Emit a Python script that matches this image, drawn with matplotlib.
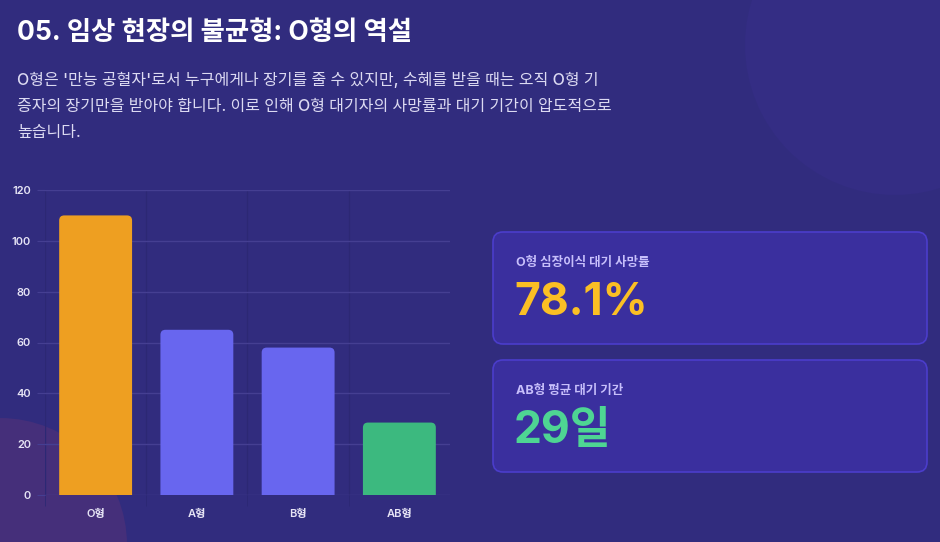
import matplotlib.pyplot as plt
from matplotlib.patches import Circle, FancyBboxPatch

plt.rcParams['font.family'] = ['Inter', 'Noto Sans CJK KR', 'DejaVu Sans']

# 데이터
blood_types = ['O형', 'A형', 'B형', 'AB형']
bar_values = [110, 65, 58, 28.5]
bar_colors = ['#EE9F21', '#6866EF', '#6866EF', '#3CB97F']
y_ticks = [0, 20, 40, 60, 80, 100, 120]

title = '05. 임상 현장의 불균형: O형의 역설'
body_lines = [
    "O형은 '만능 공혈자'로서 누구에게나 장기를 줄 수 있지만, 수혜를 받을 때는 오직 O형 기",
    "증자의 장기만을 받아야 합니다. 이로 인해 O형 대기자의 사망률과 대기 기간이 압도적으로",
    "높습니다.",
]
card_labels = ['O형 심장이식 대기 사망률', 'AB형 평균 대기 기간']
card_values = ['78.1%', '29일']
card_colors = ['#FBBF24', '#4ED593']

bg = '#312C7E'
W, H = 940, 542
fig = plt.figure(figsize=(W / 100, H / 100), dpi=100, facecolor=bg)

# 배경 장식 원
deco = fig.add_axes([0, 0, 1, 1], zorder=0)
deco.set_xlim(0, W)
deco.set_ylim(H, 0)
deco.axis('off')
deco.add_patch(Circle((895, 45), 150, color='#342D84', lw=0))
deco.add_patch(Circle((0, 545), 127, color='#452F7A', lw=0))

# 제목과 설명
fig.text(17 / W, 1 - 33 / H, title, color='white', fontsize=19,
         fontweight='bold', va='center', ha='left')
for i, line in enumerate(body_lines):
    fig.text(17 / W, 1 - (80 + 26 * i) / H, line, color='#DCDAF2',
             fontsize=11.5, fontweight='medium', va='center', ha='left')

# 막대 차트
ax = fig.add_axes([45 / W, 1 - 495 / H, 405 / W, 305 / H], zorder=1)
ax.set_facecolor('none')
x = list(range(len(blood_types)))
bars = ax.bar(x, bar_values, width=0.72, color=bar_colors, zorder=3)
ax.set_xlim(-0.5, len(blood_types) - 0.5)
ax.set_ylim(0, 120)

# 막대 윗모서리 둥글게
px_x = 405 / len(blood_types)
px_y = 305 / 120
for b in bars:
    b.set_visible(False)
    ax.add_patch(FancyBboxPatch((b.get_x(), -3), b.get_width(), b.get_height() + 3,
                                boxstyle='round,pad=0,rounding_size=0.05',
                                mutation_aspect=px_x / px_y,
                                fc=b.get_facecolor(), lw=0, zorder=3))

ax.set_yticks(y_ticks)
ax.set_xticks(x)
ax.set_xticklabels(blood_types)
ax.set_xticks([i - 0.5 for i in x], minor=True)
for s in ax.spines.values():
    s.set_visible(False)
ax.grid(axis='y', color='#453F92', lw=1, zorder=0)
ax.grid(axis='x', which='minor', color='#2C2874', lw=1, zorder=0)
ax.tick_params(axis='x', which='major', length=0, pad=10, labelsize=8,
               labelcolor='#E6E4F5')
ax.tick_params(axis='x', which='minor', length=8, color='#2C2874')
ax.tick_params(axis='y', length=6, color='#453F92', labelsize=8,
               labelcolor='#E6E4F5', pad=4)
for lbl in ax.get_xticklabels() + ax.get_yticklabels():
    lbl.set_fontweight('semibold')

# 오른쪽 카드
cards = fig.add_axes([0, 0, 1, 1], zorder=2)
cards.set_xlim(0, W)
cards.set_ylim(H, 0)
cards.axis('off')
card_tops = [232, 360]
for top, lab, val, col in zip(card_tops, card_labels, card_values, card_colors):
    cards.add_patch(FancyBboxPatch((493, top), 434, 112,
                                   boxstyle='round,pad=0,rounding_size=10',
                                   fc='#3A2F9E', ec='#4B3DCB', lw=1.2))
    cards.text(516, top + 31, lab, color='#C7BFFB', fontsize=9,
               fontweight='bold', va='center', ha='left')
    cards.text(514, top + 71, val, color=col, fontsize=32,
               fontweight='bold', va='center', ha='left')

fig.savefig('out.png', dpi=100, facecolor=bg)
